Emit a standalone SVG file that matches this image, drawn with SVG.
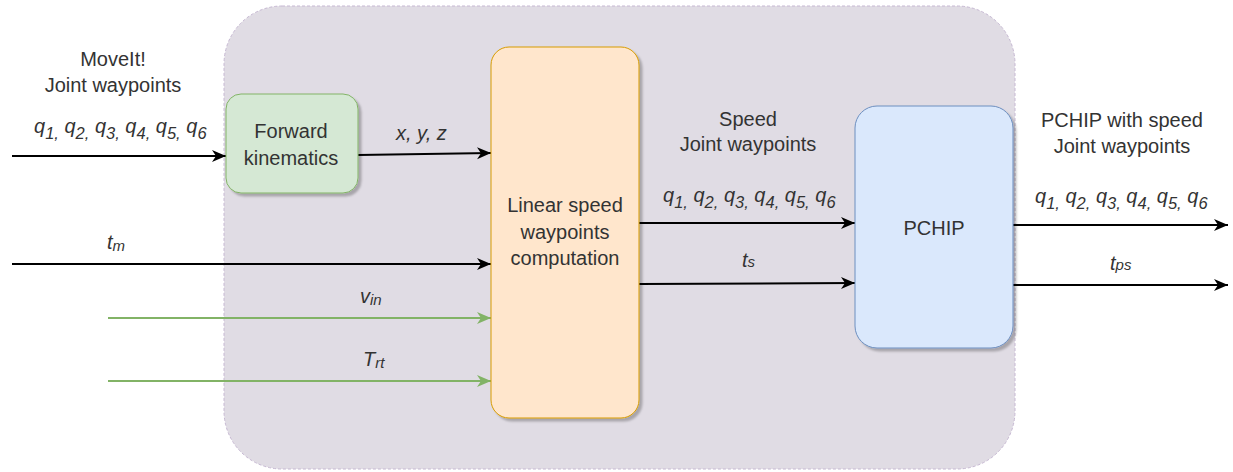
<svg xmlns="http://www.w3.org/2000/svg" width="1233" height="472" viewBox="0 0 1233 472">
<defs>
<style>
text{font-family:"Liberation Sans",Arial,sans-serif;font-size:20px;fill:#333333}
.c{text-anchor:middle}
.i{font-style:italic}
.sub{font-size:16.5px}
.sm{font-size:15px}
.blk{stroke:#000;stroke-width:2;fill:none;marker-end:url(#ab)}
.grn{stroke:#82b366;stroke-width:2;fill:none;marker-end:url(#ag)}
</style>
<marker id="ab" markerUnits="userSpaceOnUse" markerWidth="16" markerHeight="14" refX="14" refY="6" orient="auto"><path d="M0,0 L14,6 L0,12 L4,6 z" fill="#000"/></marker>
<marker id="ag" markerUnits="userSpaceOnUse" markerWidth="16" markerHeight="14" refX="14" refY="6" orient="auto"><path d="M0,0 L14,6 L0,12 L4,6 z" fill="#82b366"/></marker>
<filter id="sh" x="-10%" y="-10%" width="130%" height="130%"><feDropShadow dx="3" dy="3" stdDeviation="1.2" flood-color="#000" flood-opacity="0.25"/></filter>
</defs>

<g id="container">
<rect x="224" y="6" width="791" height="463" rx="58" ry="58" fill="#e0dce4" stroke="#c6b8d2" stroke-width="1" stroke-dasharray="3 2"/>
</g>

<g id="connectors">
<path class="blk" d="M12,156 L226,156"/>
<path class="blk" d="M358,155 L491,153"/>
<path class="blk" d="M12,264 L491,264"/>
<path class="grn" d="M108,318 L491,318"/>
<path class="grn" d="M108,381 L491,381"/>
<path class="blk" d="M639,223 L855,223"/>
<path class="blk" d="M639,284 L855,283"/>
<path class="blk" d="M1013,225 L1228,225"/>
<path class="blk" d="M1013,285 L1228,285"/>
</g>

<g id="fk">
<rect x="226" y="94" width="132" height="99" rx="15" fill="#d5e8d4" stroke="#82b366" stroke-width="1" filter="url(#sh)"/>
<text class="c" x="291" y="138">Forward</text>
<text class="c" x="291" y="165">kinematics</text>
</g>

<g id="linear">
<rect x="491" y="47" width="148" height="371" rx="18" fill="#ffe6cc" stroke="#d79b00" stroke-width="1" filter="url(#sh)"/>
<text class="c" x="565" y="212">Linear speed</text>
<text class="c" x="565" y="238.5">waypoints</text>
<text class="c" x="565" y="265">computation</text>
</g>

<g id="pchip">
<rect x="855" y="106" width="158" height="242" rx="22" fill="#dae8fc" stroke="#6c8ebf" stroke-width="1" filter="url(#sh)"/>
<text class="c" x="934" y="235">PCHIP</text>
</g>

<g id="labels">
<text class="c" x="113" y="66">MoveIt!</text>
<text class="c" x="113" y="92">Joint waypoints</text>
<text class="i" x="34" y="133">q<tspan class="sub" dy="5.5">1,</tspan><tspan dy="-5.5"> q</tspan><tspan class="sub" dy="5.5">2,</tspan><tspan dy="-5.5"> q</tspan><tspan class="sub" dy="5.5">3,</tspan><tspan dy="-5.5"> q</tspan><tspan class="sub" dy="5.5">4,</tspan><tspan dy="-5.5"> q</tspan><tspan class="sub" dy="5.5">5,</tspan><tspan dy="-5.5"> q</tspan><tspan class="sub" dy="5.5">6</tspan></text>
<text class="i" x="396" y="140">x, y, z</text>
<text class="i" x="107" y="249">t<tspan class="sm" dy="2">m</tspan></text>
<text class="i" x="360" y="303">v<tspan class="sm" dy="2">in</tspan></text>
<text class="i" x="363" y="366">T<tspan class="sm" dy="2">rt</tspan></text>
<text class="c" x="748" y="126">Speed</text>
<text class="c" x="748" y="151">Joint waypoints</text>
<text class="i" x="663" y="202">q<tspan class="sub" dy="5.5">1,</tspan><tspan dy="-5.5"> q</tspan><tspan class="sub" dy="5.5">2,</tspan><tspan dy="-5.5"> q</tspan><tspan class="sub" dy="5.5">3,</tspan><tspan dy="-5.5"> q</tspan><tspan class="sub" dy="5.5">4,</tspan><tspan dy="-5.5"> q</tspan><tspan class="sub" dy="5.5">5,</tspan><tspan dy="-5.5"> q</tspan><tspan class="sub" dy="5.5">6</tspan></text>
<text class="i" x="742" y="267">t<tspan class="sm">s</tspan></text>
<text class="c" x="1122" y="127">PCHIP with speed</text>
<text class="c" x="1122" y="153">Joint waypoints</text>
<text class="i" x="1035" y="203">q<tspan class="sub" dy="5.5">1,</tspan><tspan dy="-5.5"> q</tspan><tspan class="sub" dy="5.5">2,</tspan><tspan dy="-5.5"> q</tspan><tspan class="sub" dy="5.5">3,</tspan><tspan dy="-5.5"> q</tspan><tspan class="sub" dy="5.5">4,</tspan><tspan dy="-5.5"> q</tspan><tspan class="sub" dy="5.5">5,</tspan><tspan dy="-5.5"> q</tspan><tspan class="sub" dy="5.5">6</tspan></text>
<text class="i" x="1110" y="270">t<tspan class="sm">ps</tspan></text>
</g>
</svg>
